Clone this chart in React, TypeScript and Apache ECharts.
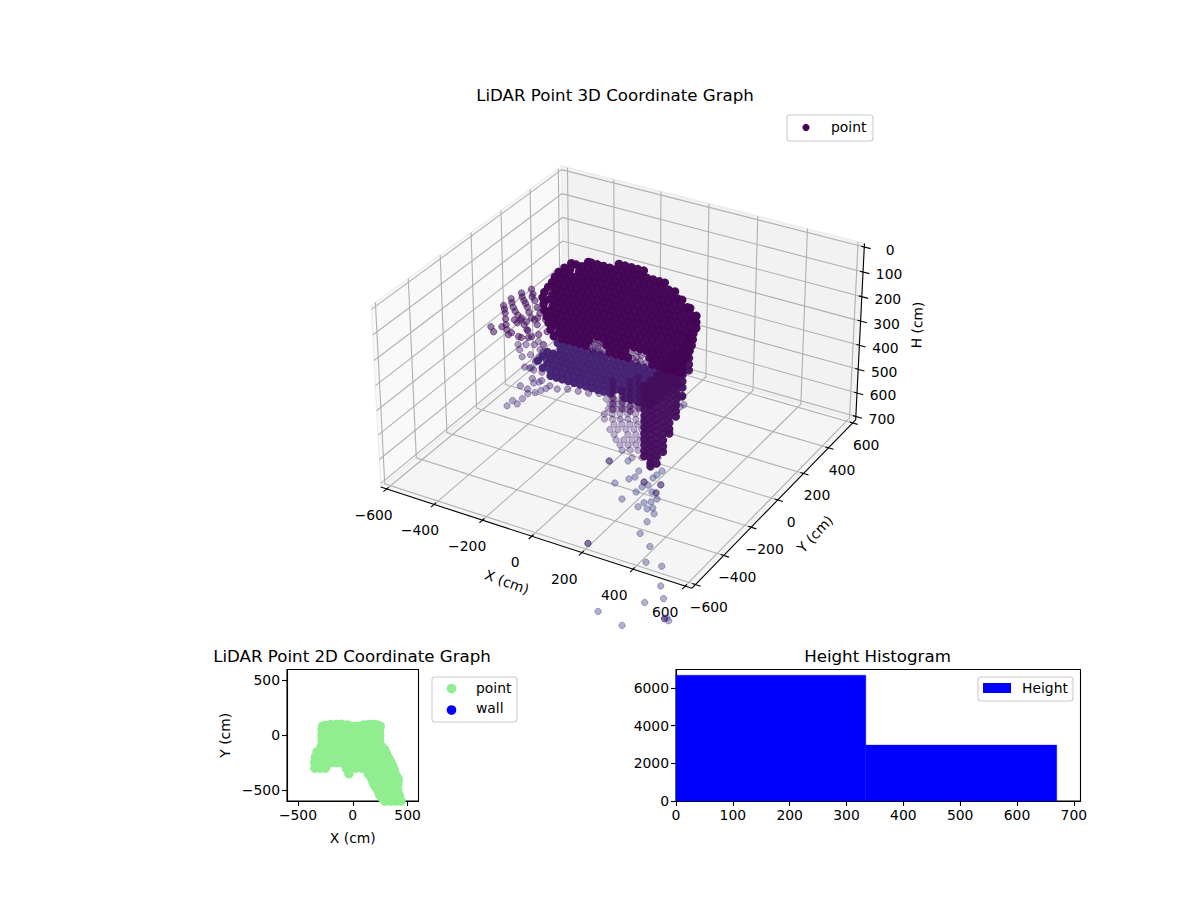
import { useEffect, useRef } from 'react';
import * as echarts from 'echarts';

const FONT = '"DejaVu Sans"';

// 3D axes
const xyTicks = [-600, -400, -200, 0, 200, 400, 600];
const heightTicks = [0, 100, 200, 300, 400, 500, 600, 700];

// upper shell, one row of X per scan height, all at Y = 100
const shellY = 100;
const shellH = [9, 34, 58, 83, 107, 131, 156, 180, 205, 229, 254, 278, 303, 327, 352, 376];
const shellX = [
    [-62, -37, -12, 13, 38],
    [-187, -175, -150, -125, -100, -75, -50, -25, 0, 25, 50, 75, 100, 122],
    [-257, -237, -212, -187, -162, -137, -112, -87, -62, -37, -12, 13, 38, 63, 88, 113, 138, 163],
    [-285, -262, -225, -200, -175, -150, -125, -100, -75, -50, -25, 0, 25, 50, 75, 100, 125, 150, 175, 192],
    [-310, -287, -262, -237, -212, -187, -162, -137, -112, -87, -62, -37, -12, 13, 38, 63, 88, 113, 138, 163, 188, 213, 224],
    [-326, -300, -275, -250, -225, -200, -175, -150, -125, -100, -75, -50, -25, 0, 25, 50, 75, 100, 125, 150, 175, 200, 225, 249],
    [-338, -312, -287, -262, -237, -212, -187, -162, -137, -112, -87, -62, -37, -12, 13, 38, 63, 88, 113, 138, 163, 188, 213, 238, 249],
    [-355, -325, -300, -275, -250, -225, -200, -175, -150, -125, -100, -75, -50, -25, 0, 25, 50, 75, 100, 125, 150, 175, 200, 225, 249],
    [-371, -337, -312, -287, -262, -237, -212, -187, -162, -137, -112, -87, -62, -37, -12, 13, 38, 63, 88, 113, 138, 163, 188, 213, 238],
    [-379, -350, -325, -300, -275, -250, -225, -200, -175, -150, -125, -100, -75, -50, -25, 0, 25, 50, 75, 100, 125, 150, 175, 200, 225, 236],
    [-375, -337, -312, -287, -262, -237, -212, -187, -162, -137, -112, -87, -62, -37, -12, 13, 38, 63, 88, 113, 138, 163, 188, 213, 232],
    [-371, -350, -325, -300, -275, -250, -225, -200, -175, -150, -125, -100, -75, -50, -25, 0, 25, 50, 75, 100, 125, 150, 175, 200, 224],
    [-363, -337, -312, -287, -262, -237, -212, -187, -162, -137, -112, -87, -62, -37, -12, 13, 38, 63, 88, 113, 138, 163, 188, 212],
    [-355, -325, -300, -275, -250, -225, -200, -175, -150, -125, -100, -75, -50, -25, 0, 25, 50, 75, 100, 125, 150, 175, 200],
    [-347, -312, -287, -262, -237, -212, -187, -112, -87, -62, -37, 63, 88, 113, 138, 163, 196],
    [-334, -300, -275, -250, -225, -200, -100, -75, -50, -25, 75, 100, 125, 150, 175, 192],
];

// sparse returns in the two gaps of the shell
const gapH = [352, 352, 352, 352, 352, 376, 376, 376, 376, 376, 376, 365, 365, 340, 340, 360, 388, 388, 345, 385];
const gapX = [-170, -140, -118, -10, 30, -185, -160, -130, -5, 25, 50, -150, 10, -158, 18, -180, -170, -140, -130, 10];

// lower band, bluer than the shell
const bandY = 100;
const bandH = [400, 425, 450, 474, 498, 523, 547];
const bandX = [
    [-318, -293, -268, -243, -218, -193, -168, -143, -118, -88, -63, -38, -13, 15, 40, 65, 90, 115, 140, 165, 179],
    [-306, -281, -256, -231, -206, -181, -156, -131, -106, -81, -56, -31, -6, 19, 44, 69, 94, 119, 144, 169, 179],
    [-363, -338, -313, -288, -263, -238, -213, -188, -163, -138, -113, -88, -63, -38, -13, 12, 37, 62, 87, 112, 137, 155],
    [-383, -351, -326, -301, -276, -251, -226, -201, -176, -151, -126, -101, -76, -51, -26, -1, 24, 49, 74, 99, 126],
    [-404, -363, -338, -313, -288, -263, -238, -213, -188, -163, -138, -113, -88, -63, -38, -13, 12, 37, 62, 87, 106],
    [-383, -351, -326, -301, -276, -251, -226, -201, -176, -151, -126, -101, -76, -51, -26, -1, 24, 49, 74, 86],
    [-350, -325, -300, -275, -250, -225, -200, -175, -150, -125, -98, -37, -12, 13, 38, 65],
];

// dark columns under the band and the right wall, all at Y = -200
const wallY = -200;
const columnX = [87, 124, 156, 189];
const columnH = [
    [290, 312, 335, 358, 380, 403],
    [316, 340, 365, 390],
    [270, 295, 320, 345, 370, 390],
    [244, 270, 295, 320, 345, 366],
];
const wallX = [213, 238, 262, 287, 311, 336, 360, 384];
const wallH = [
    [270, 294, 318, 342, 366, 390, 414, 438, 462, 486, 510, 534, 555],
    [242, 266, 290, 314, 338, 362, 386, 410, 434, 458, 482, 506, 530, 554, 575, 589],
    [215, 240, 265, 290, 315, 340, 365, 390, 415, 440, 465, 490, 515, 540, 570],
    [167, 192, 217, 242, 267, 292, 317, 342, 367, 392, 417, 442, 467, 492, 514],
    [140, 165, 190, 215, 240, 265, 290, 315, 340, 365, 390, 415, 433],
    [112, 137, 162, 187, 212, 237, 262, 287, 312, 337, 357],
    [85, 110, 135, 160, 185, 210, 235, 268],
    [37, 62, 87, 112, 137, 160],
];

// left fingers
const fingerH = 120;
const fingerX = [-339, -316, -285, -252, -222, -355, -318, -282, -229, -364, -324, -281, -226, -160, -361, -327, -280, -236, -187, -318, -291, -285, -254, -234, -166, -187, -146, -96, -273, -259, -199, -213, -199, -338, -302, -259, -347, -304, -255, -193, -344, -303, -259, -308, -255, -224, -180, -132, -211, -230];
const fingerPtY = [-38, -65, -103, -141, -172, -79, -122, -158, -216, -133, -183, -222, -270, -328, -188, -232, -301, -356, -351, -339, -364, -320, -270, -339, -339, -247, -304, -355, -257, -233, -295, -222, -350, -102, -138, -185, -156, -203, -247, -299, -210, -267, -329, -84, -87, -149, -203, -272, -205, -248];

// legs below the fingers
const legH = 120;
const legX = [-171, -148, -115, -71, -53, -88, -64, -34, -34, -3, -123, -147, -98, -122, -72, -58, -40, -9, 25, 67, 99, 129, 166, 203, 233, -18, 14];
const legY = [-398, -425, -462, -517, -514, -390, -432, -440, -519, -517, -371, -385, -436, -346, -397, -469, -403, -569, -565, -581, -587, -570, -564, -559, -542, -630, -636];

// lower left arc and the few points right of the wall
const floorH = 480;
const floorX = [-314, -316, -290, -293, -295, -276, -266, -257, -316, -303, -379, 164, 194, 195, 224, 198, 219, 151];
const floorY = [-254, -214, -225, -185, -146, -127, -104, -83, -71, -56, 17, 111, 103, 64, 64, 25, 45, 79];

// thin points under the band
const ringH = 600;
const ringX = [-136, -111, -87, -62, -38, -13, -94, -69, -45, -20, 4, 29, -71, -46, -22, 2, 27, 51, 88, -18, 7, 31, 56, 80, 105, 36, 60, 85, 109, 134, 90, 115, 139, 164, 188, 145, 175, 200, 224, -106, -81, -57, -32, -8, 17, -89, -64, -40, -16, 9, 58, -23, 1, 26, 50, 81, 13, 55, 80, 104, 66, 90, 115, 164];
const ringY = [136, 150, 165, 179, 193, 207, 79, 93, 107, 121, 135, 149, 11, 25, 39, 53, 67, 81, 102, -41, -27, -12, 2, 16, 30, -91, -77, -63, -49, -35, -141, -127, -113, -99, -85, -167, -149, -135, -121, 112, 126, 141, 155, 169, 183, 41, 55, 69, 83, 97, 125, -3, 12, 26, 40, 57, -64, -39, -25, -11, -114, -100, -86, -58];

// stray points at the bottom, many past the axis limits
const strayH = 600;
const strayX = [87, 144, 176, 205, 217, 209, 279, 276, 274, 260, 281, 270, 319, 268, 315, 330, 352, 248, 343, 325, 320, 353, 367, 388, 392, 407, 286, 474, 509, 565, 618, 619, 661, 514, 619, 722, 735, 718];
const strayY = [-226, -193, -340, -293, -272, -231, -191, -222, -246, -284, -294, -315, -271, -353, -326, -324, -356, -416, -382, -399, -431, -427, -412, -441, -496, -570, -709, -622, -710, -704, -805, -913, -863, -1031, -1059, -951, -962, -959];
// the strays that read darker, a second return at the same spot
const strayDarkX = [87, 286, 260, 330, 319, 718];
const strayDarkY = [-226, -709, -284, -324, -271, -959];

// 2D top view, one row of X per Y
const topY = [82, 50, 0, -50, -100, -150, -200, -250, -300, -350, -400, -450, -500, -550, -600, -650];
const topX = [
    [-275, -225, -175, -125, -75, -25, 25, 75, 125, 175, 225, 250],
    [-280, -230, -180, -130, -80, -30, 20, 70, 120, 170, 220, 245],
    [-280, -230, -180, -130, -80, -30, 20, 70, 120, 170, 220, 245],
    [-280, -230, -180, -130, -80, -30, 20, 70, 120, 170, 220, 245],
    [-286, -236, -186, -136, -86, -36, 14, 64, 114, 164, 214, 259],
    [-325, -275, -225, -175, -125, -75, -25, 25, 75, 125, 175, 225, 275, 298],
    [-341, -291, -241, -191, -141, -91, -41, 9, 59, 109, 159, 209, 259, 320],
    [-347, -297, -247, -197, -147, -97, -47, 3, 53, 103, 153, 203, 253, 303, 350],
    [-345, -295, -250, -60, -20, 30, 80, 130, 180, 230, 280, 330, 371],
    [-35, 140, 190, 240, 290, 340, 385],
    [175, 225, 275, 325, 375, 415],
    [195, 245, 295, 345, 395, 410],
    [230, 280, 330, 380, 411],
    [250, 300, 350, 400, 425],
    [295, 345, 395, 440],
    [330, 380, 430, 460],
];
// edge returns that round the outline off
const topEdgeX = [-250, -200, -150, -100, -50, 100, 150, 200, 230, 285, 310, 335, 360, 380, 400, 412, 165, 185, 212, 240, 272];
const topEdgeY = [90, 97, 98, 100, 92, 92, 98, 98, 90, -125, -175, -225, -275, -325, -375, -425, -375, -425, -475, -525, -575];

// height histogram
const binEdges = [0, 334, 670];
const binCounts = [6673, 2966];

const xy2dTicks = [-500, 0, 500];
const histXTicks = [0, 100, 200, 300, 400, 500, 600, 700];
const histYTicks = [0, 2000, 4000, 6000];

// projection of the 3D axes, elev 30 and azim -60, camera distance 10
const K = 0.0010377;
const SCALE = 2730;
const CX = 623;
const CY = 365;
const EDGE_XY = 625;
const EDGE_TOP = -14.6;
const EDGE_BOTTOM = 714.6;
// the cloud values were read against a frame 3px further left
const CLOUD_SHIFT = 3;

const project = (X: number, Y: number, H: number): [number, number] => {
    const x = X * K;
    const y = Y * K;
    const z = (350 - H) * K;
    const xv = 0.866 * x + 0.5 * y;
    const yv = -0.25 * x + 0.433 * y + 0.866 * z;
    const depth = 0.433 * x - 0.75 * y + 0.5 * z;
    return [CX + (SCALE * xv) / (10 - depth), CY - (SCALE * yv) / (10 - depth)];
};

const minus = (v: number) => String(v).replace('-', '\u2212');

const cloudPalette = ['#440154', '#45105f', '#451a6f', '#414487'];

// thin point: outlined disc, the outline overlaps the fill and reads darker
const thinPoint = (X: number, Y: number, H: number, alpha: number, tone: number) => {
    const p = project(X, Y, H);
    const rgba = echarts.color.modifyAlpha(echarts.color.lerp(tone, cloudPalette), alpha);
    return {
        value: [p[0] - CLOUD_SHIFT, p[1]],
        symbolSize: 6.4,
        itemStyle: { color: rgba, borderColor: rgba, borderWidth: 1 },
    };
};

// dense point: no outline, neighbours merge into a solid area
const densePoint = (X: number, Y: number, H: number, alpha: number, tone: number, size: number) => {
    const p = project(X, Y, H);
    return {
        value: [p[0] - CLOUD_SHIFT, p[1]],
        symbolSize: size,
        itemStyle: { color: echarts.color.modifyAlpha(echarts.color.lerp(tone, cloudPalette), alpha), borderWidth: 0 },
    };
};

const buildCloud = () => {
    const out: any[] = [];
    strayX.forEach((x, i) => out.push(thinPoint(x, strayY[i], strayH, 0.42, 1)));
    strayDarkX.forEach((x, i) => out.push(thinPoint(x, strayDarkY[i], strayH, 0.35, 0.4)));
    ringX.forEach((x, i) => out.push(thinPoint(x, ringY[i], ringH, 0.34, 0.75)));
    floorX.forEach((x, i) => out.push(thinPoint(x, floorY[i], floorH, 0.4, 0.8)));
    legX.forEach((x, i) => out.push(thinPoint(x, legY[i], legH, 0.42, 0.7)));
    fingerX.forEach((x, i) => out.push(thinPoint(x, fingerPtY[i], fingerH, 0.55, 0.3)));
    bandH.forEach((h, i) => bandX[i].forEach(x => out.push(densePoint(x, bandY, h, 0.97, 0.72, 8.4))));
    gapX.forEach((x, i) => out.push(thinPoint(x, shellY, gapH[i], 0.45, 0.45)));
    columnX.forEach((x, i) => columnH[i].forEach(h => out.push(densePoint(x, wallY, h, 0.62, 0.3, 7.4))));
    wallX.forEach((x, i) => wallH[i].forEach(h => out.push(densePoint(x, wallY, h, 0.96, 0.28, 8.4))));
    shellH.forEach((h, i) => shellX[i].forEach(x => out.push(densePoint(x, shellY, h, 0.98, 0.06, 8.6))));
    return out;
};

const line3d = (a: [number, number, number], b: [number, number, number], color: string, width: number) => {
    const p = project(...a);
    const q = project(...b);
    return {
        type: 'line',
        silent: true,
        shape: { x1: p[0], y1: p[1], x2: q[0], y2: q[1] },
        style: { stroke: color, lineWidth: width },
    };
};

const polyline3d = (pts: [number, number, number][], color: string, width: number) => ({
    type: 'polyline',
    silent: true,
    shape: { points: pts.map(p => project(...p)) },
    style: { stroke: color, lineWidth: width, fill: 'none' },
});

const pane = (pts: [number, number, number][], fill: string) => ({
    type: 'polygon',
    silent: true,
    shape: { points: pts.map(p => project(...p)) },
    style: { fill, stroke: '#ececec', lineWidth: 1.2 },
});

const label = (text: string, x: number, y: number, rotation = 0) => ({
    type: 'text',
    silent: true,
    x,
    y,
    rotation,
    style: { text, fill: '#000', font: `13.9px ${FONT}`, align: 'center', verticalAlign: 'middle' },
});

const buildFrame = () => {
    const E = EDGE_XY;
    const T = EDGE_TOP;
    const B = EDGE_BOTTOM;
    const grid = '#b0b0b0';
    const out: any[] = [
        pane([[-E, -E, T], [-E, E, T], [-E, E, B], [-E, -E, B]], '#f9f9f9'),
        pane([[-E, E, T], [E, E, T], [E, E, B], [-E, E, B]], '#f2f2f2'),
        pane([[-E, -E, B], [E, -E, B], [E, E, B], [-E, E, B]], '#f5f5f5'),
    ];
    xyTicks.forEach(v => {
        out.push(polyline3d([[v, -E, B], [v, E, B], [v, E, T]], grid, 1.1));
        out.push(polyline3d([[E, v, B], [-E, v, B], [-E, v, T]], grid, 1.1));
    });
    heightTicks.forEach(h => {
        out.push(polyline3d([[-E, -E, h], [-E, E, h], [E, E, h]], grid, 1.1));
    });
    out.push(line3d([-E, -E, B], [E, -E, B], '#000', 1.1));
    out.push(line3d([E, -E, B], [E, E, B], '#000', 1.1));
    out.push(line3d([E, E, T], [E, E, B], '#000', 1.1));
    xyTicks.forEach(v => {
        out.push(line3d([v, -E + 12, B], [v, -E - 20, B], '#000', 1.1));
        out.push(line3d([E - 12, v, B], [E + 20, v, B], '#000', 1.1));
        const xp = project(v, -E, B);
        out.push(label(minus(v), xp[0] - 13 - ((v + 600) / 1200) * 7, xp[1] + 26));
        const yp = project(E, v, B);
        out.push(label(minus(v), yp[0] + 13.5, yp[1] + 22));
    });
    heightTicks.forEach(h => {
        out.push(line3d([E - 12, E, h], [E + 25, E, h], '#000', 1.1));
        const hp = project(E, E, h);
        out.push(label(String(h), hp[0] + 26, hp[1] + 2.5));
    });
    out.push(label('X (cm)', 507, 582, (-20 * Math.PI) / 180));
    out.push(label('Y (cm)', 815, 534, (47 * Math.PI) / 180));
    out.push(label('H (cm)', 917, 325, (88 * Math.PI) / 180));
    return out;
};

const legendBox = (x: number, y: number, width: number, height: number) => ({
    type: 'rect',
    silent: true,
    z: 100,
    shape: { x, y, width, height, r: 3 },
    style: { fill: 'rgba(255,255,255,0.8)', stroke: '#cccccc', lineWidth: 1.1 },
});

const legendDot = (cx: number, cy: number, r: number, fill: string) => ({
    type: 'circle',
    silent: true,
    z: 101,
    shape: { cx, cy, r },
    style: { fill },
});

const legendText = (text: string, x: number, y: number) => ({
    type: 'text',
    silent: true,
    z: 101,
    x,
    y,
    style: { text, fill: '#000', font: `13.9px ${FONT}`, align: 'left', verticalAlign: 'middle' },
});

const buildLegends = () => [
    legendBox(787, 115, 86, 26),
    legendDot(806, 127.5, 3.6, '#440154'),
    legendText('point', 831, 127),
    legendBox(432, 677, 85, 45),
    legendDot(451.5, 688.5, 4.8, '#90ee90'),
    legendText('point', 476, 688),
    legendDot(451.5, 710, 4.8, '#0000ff'),
    legendText('wall', 476, 708),
    legendBox(978, 677, 95, 24),
    { type: 'rect', silent: true, z: 101, shape: { x: 983, y: 683, width: 28, height: 10 }, style: { fill: '#0000ff' } },
    legendText('Height', 1022, 688),
];

const axisCommon = (ticks: number[]) => ({
    axisLine: { show: true, onZero: false, lineStyle: { color: '#000', width: 1.1 } },
    axisTick: { show: true, length: 5, customValues: ticks, lineStyle: { color: '#000', width: 1.1 } },
    axisLabel: {
        customValues: ticks,
        color: '#000',
        fontFamily: FONT,
        fontSize: 13.9,
        margin: 7,
        formatter: (v: number) => minus(v),
    },
    splitLine: { show: false },
});

const titleAt = (text: string, left: number, top: number) => ({
    text,
    left,
    top,
    padding: 0,
    textAlign: 'center',
    textStyle: { color: '#000', fontFamily: FONT, fontSize: 16.67, fontWeight: 'normal' },
});

export default function App() {
    const chartRef = useRef<HTMLDivElement>(null);

    useEffect(() => {
        if (!chartRef.current) return;
        const chart = echarts.init(chartRef.current, undefined, { renderer: 'svg' });

        const topPoints: number[][] = [];
        topY.forEach((y, i) => topX[i].forEach(x => topPoints.push([x, y])));
        topEdgeX.forEach((x, i) => topPoints.push([x, topEdgeY[i]]));

        const histData = binCounts.map((c, i) => [binEdges[i], binEdges[i + 1], c]);

        const option: any = {
            animation: false,
            backgroundColor: '#fff',
            title: [
                titleAt('LiDAR Point 3D Coordinate Graph', 615, 87),
                titleAt('LiDAR Point 2D Coordinate Graph', 352, 648),
                titleAt('Height Histogram', 877.5, 648),
            ],
            grid: [
                { left: 0, top: 0, width: 1200, height: 900 },
                { left: 287, top: 669.5, width: 131.5, height: 131.5, show: true, borderColor: '#000', borderWidth: 1.1, backgroundColor: 'transparent' },
                { left: 676, top: 669.5, width: 404.5, height: 131.5, show: true, borderColor: '#000', borderWidth: 1.1, backgroundColor: 'transparent' },
            ],
            xAxis: [
                { gridIndex: 0, type: 'value', min: 0, max: 1200, show: false },
                {
                    gridIndex: 1, type: 'value', min: -600, max: 600, ...axisCommon(xy2dTicks),
                    name: 'X (cm)', nameLocation: 'middle', nameGap: 30,
                    nameTextStyle: { color: '#000', fontFamily: FONT, fontSize: 13.9 },
                },
                { gridIndex: 2, type: 'value', min: 0, max: 711.8, ...axisCommon(histXTicks) },
            ],
            yAxis: [
                { gridIndex: 0, type: 'value', min: 0, max: 900, inverse: true, show: false },
                {
                    gridIndex: 1, type: 'value', min: -600, max: 600, ...axisCommon(xy2dTicks),
                    name: 'Y (cm)', nameLocation: 'middle', nameGap: 55,
                    nameTextStyle: { color: '#000', fontFamily: FONT, fontSize: 13.9 },
                },
                { gridIndex: 2, type: 'value', min: 0, max: 6975, ...axisCommon(histYTicks) },
            ],
            series: [
                {
                    name: 'point',
                    type: 'scatter',
                    xAxisIndex: 0,
                    yAxisIndex: 0,
                    silent: true,
                    clip: false,
                    itemStyle: { opacity: 1 },
                    data: buildCloud(),
                },
                {
                    name: 'point',
                    type: 'scatter',
                    xAxisIndex: 1,
                    yAxisIndex: 1,
                    symbolSize: 9.6,
                    silent: true,
                    clip: true,
                    itemStyle: { color: '#90ee90', opacity: 1 },
                    data: topPoints,
                },
                {
                    name: 'Height',
                    type: 'custom',
                    xAxisIndex: 2,
                    yAxisIndex: 2,
                    silent: true,
                    data: histData,
                    renderItem: (_: any, api: any) => {
                        const a = api.coord([api.value(0), api.value(2)]);
                        const b = api.coord([api.value(1), 0]);
                        return {
                            type: 'rect',
                            shape: { x: a[0], y: a[1], width: b[0] - a[0], height: b[1] - a[1] },
                            style: { fill: '#0000ff', stroke: '#0000ff', lineWidth: 0.4 },
                        };
                    },
                },
            ],
            graphic: [...buildFrame(), ...buildLegends()],
        };

        chart.setOption(option);

        return () => {
            chart.dispose();
        };
    }, []);

    return <div ref={chartRef} style={{ position: 'absolute', left: 0, top: 0, width: 1200, height: 900 }} />;
}
